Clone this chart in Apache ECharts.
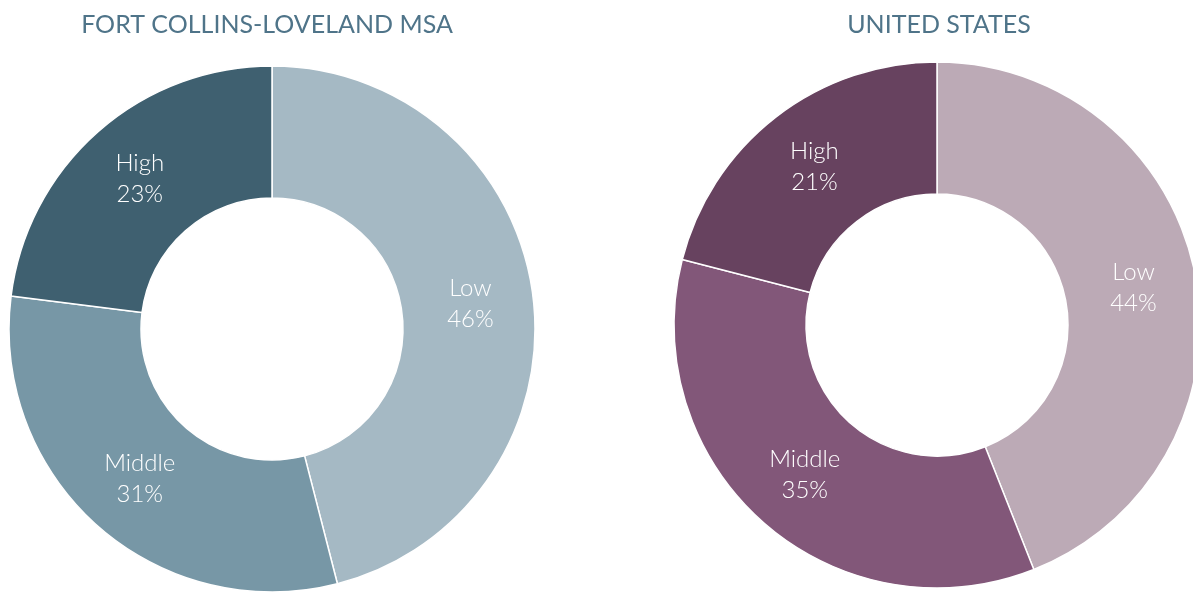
<!DOCTYPE html>
<html>
<head>
<meta charset="utf-8">
<script src="https://cdn.jsdelivr.net/npm/echarts@6/dist/echarts.min.js"></script>
<style>
  html, body { margin: 0; padding: 0; background: #ffffff; }
  #chart { width: 1193px; height: 592px; }
</style>
</head>
<body>
<div id="chart"></div>
<script>
// Income tier shares (percent of households)
const categories = ['Low', 'Middle', 'High'];
const fortCollinsValues = [46, 31, 23];
const unitedStatesValues = [44, 35, 21];
const titles = ['FORT COLLINS-LOVELAND MSA', 'UNITED STATES'];

const fortCollinsColors = ['#a5b9c4', '#7797a6', '#3f6070'];
const unitedStatesColors = ['#bcaab6', '#825779', '#67425f'];

const FONT = 'Lato, "Open Sans", sans-serif';

function toData(values, colors) {
  return categories.map((name, i) => ({
    name: name,
    value: values[i],
    itemStyle: { color: colors[i] }
  }));
}

function donut(center, values, colors) {
  return {
    type: 'pie',
    center: center,
    radius: [131, 263],
    startAngle: 90,
    clockwise: true,
    avoidLabelOverlap: false,
    silent: true,
    itemStyle: { borderColor: '#ffffff', borderWidth: 1.5 },
    label: {
      show: true,
      position: 'inside',
      formatter: '{b}\n{c}%',
      color: '#ffffff',
      fontFamily: FONT,
      fontWeight: 300,
      fontSize: 24,
      lineHeight: 31
    },
    labelLine: { show: false },
    data: toData(values, colors)
  };
}

const chart = echarts.init(document.getElementById('chart'), null, { renderer: 'canvas' });
chart.setOption({
  animation: false,
  backgroundColor: '#ffffff',
  title: [
    { text: titles[0], left: 262, top: 7, textAlign: 'center',
      textStyle: { color: '#4f7489', fontFamily: FONT, fontWeight: 'normal', fontSize: 25 } },
    { text: titles[1], left: 934, top: 7, textAlign: 'center',
      textStyle: { color: '#4f7489', fontFamily: FONT, fontWeight: 'normal', fontSize: 25 } }
  ],
  series: [
    donut([272, 329], fortCollinsValues, fortCollinsColors),
    donut([937, 325], unitedStatesValues, unitedStatesColors)
  ]
});
</script>
</body>
</html>
